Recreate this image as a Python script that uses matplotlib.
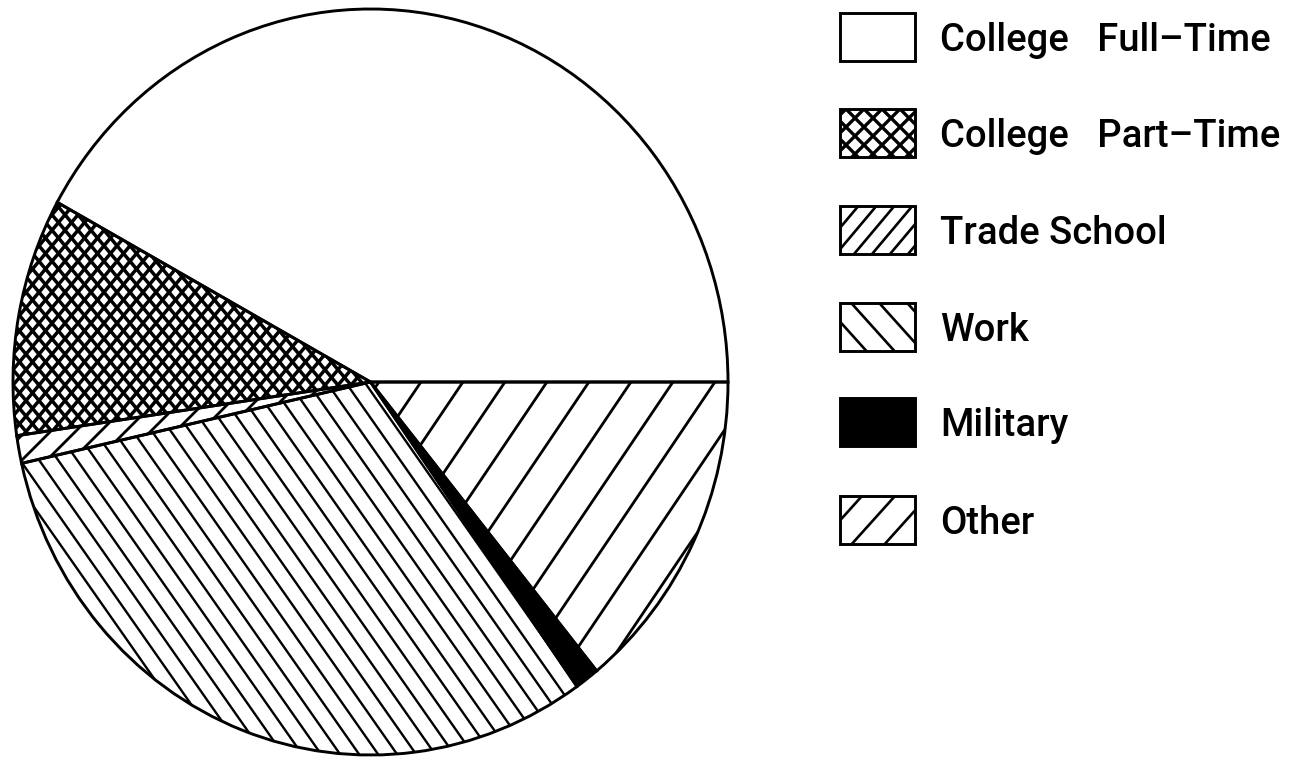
import numpy as np
import matplotlib
matplotlib.use("Agg")
import matplotlib.pyplot as plt
from matplotlib.collections import LineCollection
from matplotlib.patches import Rectangle, Wedge

# ---- data ----
categories = ["College Full-Time", "College Part-Time", "Trade School",
              "Work", "Military", "Other"]
legend_labels = ["College   Full–Time", "College   Part–Time", "Trade School",
                 "Work", "Military", "Other"]
values = [42.0, 10.3, 1.2, 31.3, 1.1, 14.1]

# ---- styles ----
pie_fill = ["white", "white", "white", "white", "black", "white"]
# (angle in degrees, horizontal spacing in px)
pie_hatch = [None, [(50, 13), (-50, 13)], [(45, 25)], [(-55, 19)], None, [(56, 42)]]
pie_hatch_lw = [0, 2.5, 2.0, 1.7, 0, 2.0]
leg_hatch = [None, [(45, 18), (-45, 18)], [(50, 18)], [(-48, 28)], None, [(48, 33)]]
leg_hatch_lw = [0, 2.4, 1.9, 1.9, 0, 1.9]

W, H = 1310, 757
KY = 373 / 357.5

fig = plt.figure(figsize=(W / 100, H / 100), dpi=100)
fig.patch.set_facecolor("white")
ax = fig.add_axes([0, 0, 1, 1])


def p2d(px, py):
    return px, (H - py) / KY


def hatch(patch, specs, lw):
    if not specs:
        return
    segs = []
    for theta, h in specs:
        t = np.radians(theta)
        d = np.array([np.cos(t), np.sin(t)])
        n = np.array([-np.sin(t), np.cos(t)])
        s = h * abs(np.sin(t))
        L = 2500
        kmax = int(2000 / s) + 1
        for k in range(-kmax, kmax + 1):
            c = n * k * s
            a = c - d * L
            b = c + d * L
            segs.append([(a[0], a[1] / KY), (b[0], b[1] / KY)])
    lc = LineCollection(segs, colors="black", linewidths=lw,
                        zorder=patch.get_zorder() + 0.5)
    ax.add_collection(lc)
    lc.set_clip_path(patch)


cx, cy = p2d(370.5, 382)
R = 357.5
wedges, _ = ax.pie(values, colors=pie_fill, startangle=0, counterclock=True,
                   center=(cx, cy), radius=R,
                   wedgeprops=dict(edgecolor="none", linewidth=0))
for w, spec, lw in zip(wedges, pie_hatch, pie_hatch_lw):
    w.set_zorder(1)
    hatch(w, spec, lw)
    ax.add_patch(Wedge(w.center, w.r, w.theta1, w.theta2, fill=False,
                       edgecolor="black", linewidth=2.1, zorder=3))

# ---- legend (drawn manually) ----
row_y = [37, 133, 230, 327, 422, 520]
box_x0, box_w, box_h = 840, 75, 48
text_x = 940
for i, lab in enumerate(legend_labels):
    yc = row_y[i]
    x0, y0 = p2d(box_x0, yc + box_h / 2)
    rect = Rectangle((x0, y0), box_w, box_h / KY, facecolor=pie_fill[i],
                     edgecolor="none", zorder=1)
    ax.add_patch(rect)
    hatch(rect, leg_hatch[i], leg_hatch_lw[i])
    ax.add_patch(Rectangle((x0, y0), box_w, box_h / KY, fill=False,
                           edgecolor="black", linewidth=2.1, zorder=3))
    tx, ty = p2d(text_x, yc + 14)
    ax.text(tx, ty, lab, fontsize=27.5, family="Roboto", fontweight="medium",
            va="baseline", ha="left", color="black")

ax.set_aspect("auto")
ax.set_xlim(0, W)
ax.set_ylim(0, H / KY)
ax.axis("off")

fig.savefig("out.png", dpi=100, facecolor="white")
